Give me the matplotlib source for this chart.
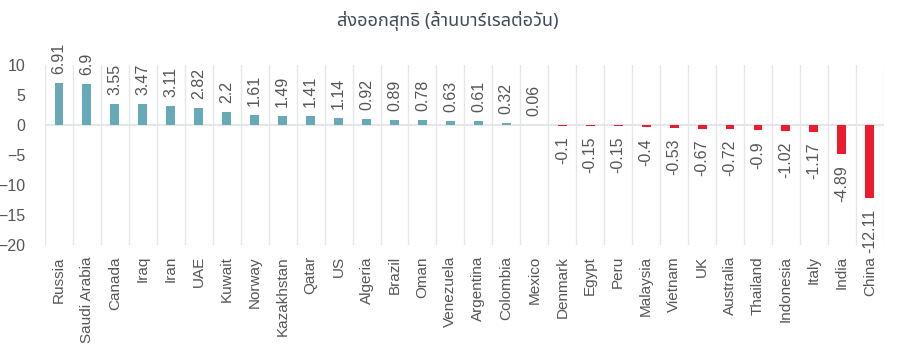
import matplotlib
matplotlib.use("Agg")
import matplotlib.pyplot as plt
from matplotlib import font_manager

countries = ["Russia", "Saudi Arabia", "Canada", "Iraq", "Iran", "UAE", "Kuwait",
             "Norway", "Kazakhstan", "Qatar", "US", "Algeria", "Brazil", "Oman",
             "Venezuela", "Argentina", "Colombia", "Mexico", "Denmark", "Egypt",
             "Peru", "Malaysia", "Vietnam", "UK", "Australia", "Thailand",
             "Indonesia", "Italy", "India", "China"]
net_exports = [6.91, 6.9, 3.55, 3.47, 3.11, 2.82, 2.2, 1.61, 1.49, 1.41, 1.14,
               0.92, 0.89, 0.78, 0.63, 0.61, 0.32, 0.06, -0.1, -0.15, -0.15,
               -0.4, -0.53, -0.67, -0.72, -0.9, -1.02, -1.17, -4.89, -12.11]
value_labels = ["6.91", "6.9", "3.55", "3.47", "3.11", "2.82", "2.2", "1.61",
                "1.49", "1.41", "1.14", "0.92", "0.89", "0.78", "0.63", "0.61",
                "0.32", "0.06", "-0.1", "-0.15", "-0.15", "-0.4", "-0.53",
                "-0.67", "-0.72", "-0.9", "-1.02", "-1.17", "-4.89", "-12.11"]
title = "ส่งออกสุทธิ (ล้านบาร์เรลต่อวัน)"

names = {f.name for f in font_manager.fontManager.ttflist}
narrow = "Liberation Sans Narrow" if "Liberation Sans Narrow" in names else "Liberation Sans"
thai = [f for f in ["Noto Sans Thai", "Noto Sans Thai Looped", "Loma", "Garuda",
                    "Tlwg Typo", "Noto Sans", "DejaVu Sans"] if f in names]
plt.rcParams["font.family"] = [narrow, "DejaVu Sans"]

teal = "#68a9b8"
red = "#ec1c2e"
grid_c = "#e3e6ea"
text_c = "#555555"

fig = plt.figure(figsize=(9, 3.51), dpi=100)
ax = fig.add_axes([0.05, 0.302, 0.932, 0.513])

x = list(range(len(countries)))
colors = [teal if v >= 0 else red for v in net_exports]
ax.bar(x, net_exports, width=0.32, color=colors, zorder=3)

ax.set_xlim(-0.5, len(countries) - 0.5)
ax.set_ylim(-20, 10)
ax.set_yticks([10, 5, 0, -5, -10, -15, -20])
ax.set_xticks(x)
ax.set_xticklabels(countries, rotation=90, fontsize=11, color=text_c)
ax.tick_params(axis="y", labelsize=11.5, colors=text_c, length=0, pad=14)
ax.tick_params(axis="x", length=0, pad=8)

# vertical separators between categories
for b in range(len(countries) + 1):
    ax.axvline(b - 0.5, color=grid_c, lw=1, zorder=1)
ax.axhline(0, color=grid_c, lw=1.5, zorder=2)
for s in ax.spines.values():
    s.set_visible(False)

for xi, v, lab in zip(x, net_exports, value_labels):
    if v >= 0:
        ax.text(xi, v + 1.5, lab, rotation=90, ha="center", va="bottom",
                fontsize=11.5, color=text_c, clip_on=False)
    else:
        ax.text(xi, v - 1.8, lab, rotation=90, ha="center", va="top",
                fontsize=11.5, color=text_c, clip_on=False)

fig.text(0.497, 0.94, title, ha="center", va="center", fontsize=13,
         color="#3d4a5a", family=thai)

fig.savefig("out.png", dpi=100)
